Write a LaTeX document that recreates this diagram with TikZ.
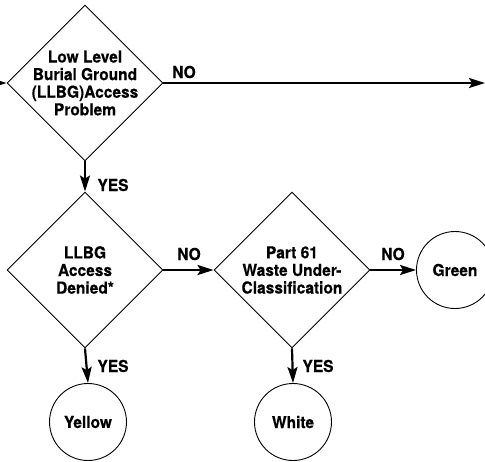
\documentclass[tikz,border=0pt]{standalone}
\usepackage{fontspec}
\setmainfont{TeX Gyre Heros}[FakeStretch=0.94,BoldFeatures={FakeBold=0.4}]
\usetikzlibrary{arrows.meta,shapes.geometric}
\begin{document}
\begin{tikzpicture}[x=1pt,y=-1pt,
  txt/.style={font=\bfseries\fontsize{16.5}{17.6}\selectfont},
  decision/.style={draw,line width=0.9pt,diamond,minimum width=156pt,minimum height=156pt,inner sep=0pt},
  dtext/.style={txt,align=center,inner sep=0pt},
  terminal/.style={txt,draw,line width=0.9pt,circle,minimum size=77pt,inner sep=0pt},
  flow/.style={line width=2.2pt,-{Stealth[length=16pt,width=10pt,inset=3pt]}},
  lbl/.style={txt,inner sep=0pt}]
\useasboundingbox (0,0) rectangle (485,461);
\node[decision] (d1) at (85,83) {};
\node[dtext] (t1) at (d1.center) {Low Level\\Burial Ground\\(LLBG)Access\\Problem};
\node[decision] (d2) at (85,270) {};
\node[dtext] (t2) at (d2.center) {LLBG\\Access\\Denied*};
\node[decision] (d3) at (292,270) {};
\node[dtext] (t3) at (d3.center) {Part 61\\Waste Under-\\Classification};
\node[terminal] (green) at (455,270) {Green};
\node[terminal] (yellow) at (88,422) {Yellow};
\node[terminal] (white) at (293,422) {White};
\coordinate (in) at (-30,83);
\coordinate (out) at (485,83);
\draw[flow] (in) -- (d1.west);
\draw[flow] (d1.east) -- (out);
\draw[flow] (d1.south) -- (d2.north);
\draw[flow] (d2.east) -- (d3.west);
\draw[flow] (d3.east) -- (green.west);
\draw[flow] (d2.south) -- (yellow.north);
\draw[flow] (d3.south) -- (white.north);
\node[lbl] (l1) at (184,72) {NO};
\node[lbl] (l2) at (113,185) {YES};
\node[lbl] (l3) at (189,254) {NO};
\node[lbl] (l4) at (393,254) {NO};
\node[lbl] (l5) at (113,366) {YES};
\node[lbl] (l6) at (318,366) {YES};
\end{tikzpicture}
\end{document}
